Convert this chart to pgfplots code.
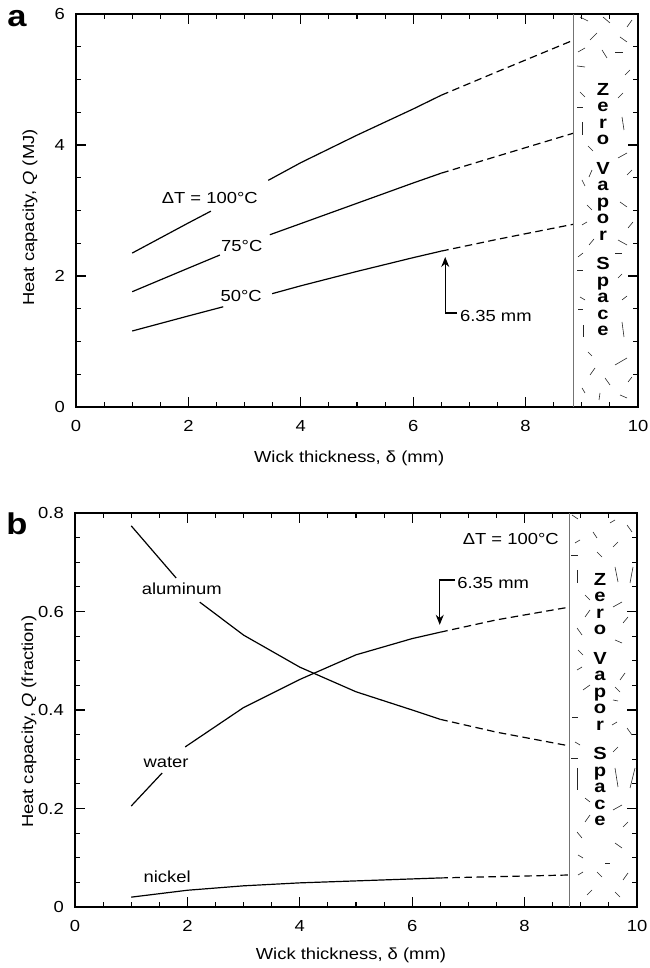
\documentclass[border=0pt]{standalone}
\usepackage{fontspec}
\setmainfont{Liberation Sans}[FakeStretch=1.15]
\usepackage{pgfplots}
\pgfplotsset{compat=1.18}
\usetikzlibrary{arrows.meta}

\newcommand{\fs}{\fontsize{16}{19}\selectfont}
\newcommand{\zd}[4]{\draw (#1,#2) -- (#3,#4);}

\pgfplotsset{
  myax/.style={
    scale only axis, width=562pt,
    xmin=0, xmax=10, xtick={0,2,...,10}, minor x tick num=3,
    tick align=inside, major tick length=10pt, minor tick length=5pt,
    axis line style={line width=1.4pt},
    every tick/.style={black, line width=1.1pt},
    tick label style={font=\fs},
    label style={font=\fs},
    /pgf/number format/assume math mode=true,
    xticklabel style={yshift=-10pt},
    yticklabel style={xshift=-7.7pt},
    no marks, clip=false,
  },
  curve/.style={black, line width=1.2pt},
  ext/.style={black, line width=1.2pt, dash pattern=on 7.5pt off 4.5pt},
}

\begin{document}
\begin{tikzpicture}
\useasboundingbox (0,0) rectangle (649pt,968pt);

% ---------------- panel a ----------------
\begin{axis}[myax, at={(76pt,561pt)}, anchor=south west, height=393pt,
  ymin=0, ymax=6, ytick={0,2,4,6}, minor y tick num=3,
  xlabel={Wick thickness, δ (mm)},
  ylabel={Heat capacity, \textit{Q} (MJ)},
  xlabel style={at={(axis description cs:0.486,-0.13)}, anchor=center},
  ylabel style={at={(axis description cs:-0.082,0.482)}, anchor=center},
]
% 100 C
\addplot[curve] coordinates {(1,2.35) (2,2.81) (2.4,2.99)};
\addplot[curve] coordinates {(3.42,3.46) (4,3.73) (5,4.15) (6,4.55) (6.5,4.76)};
\addplot[ext] coordinates {(6.5,4.76) (7.5,5.12) (8.85,5.60)};
% 75 C
\addplot[curve] coordinates {(1,1.76) (2,2.12) (2.56,2.32)};
\addplot[curve] coordinates {(3.45,2.63) (4,2.80) (5,3.11) (6,3.42) (6.5,3.57)};
\addplot[ext] coordinates {(6.5,3.57) (7.5,3.83) (8.85,4.18)};
% 50 C
\addplot[curve] coordinates {(1,1.16) (2,1.39) (2.62,1.53)};
\addplot[curve] coordinates {(3.49,1.73) (4,1.85) (5,2.07) (6,2.28) (6.5,2.38)};
\addplot[ext] coordinates {(6.5,2.38) (7.5,2.56) (8.85,2.79)};

\draw[black!55, line width=0.9pt] (axis cs:8.85,0) -- (axis cs:8.85,6);

\node[font=\fs, inner sep=0pt] at (axis cs:2.38,3.19) {ΔT = 100°C};
\node[font=\fs, inner sep=0pt] at (axis cs:2.95,2.46) {75°C};
\node[font=\fs, inner sep=0pt] at (axis cs:2.94,1.69) {50°C};
\node[font=\fs, inner sep=0pt, anchor=west] at (axis cs:6.83,1.39) {6.35 mm};
\draw[line width=1.1pt, -{Stealth[length=10pt,width=8pt]}]
  (axis cs:6.78,1.435) -- (axis cs:6.57,1.435) -- (axis cs:6.57,2.29);
\end{axis}

% ---------------- panel b ----------------
\begin{axis}[myax, at={(75pt,61pt)}, anchor=south west, height=394pt,
  ymin=0, ymax=0.8, ytick={0,0.2,0.4,0.6,0.8}, minor y tick num=3,
  yticklabel={\pgfmathprintnumber[fixed,precision=1]{\tick}},
  xlabel={Wick thickness, δ (mm)},
  ylabel={Heat capacity, \textit{Q} (fraction)},
  xlabel style={at={(axis description cs:0.491,-0.122)}, anchor=center},
  ylabel style={at={(axis description cs:-0.082,0.47)}, anchor=center},
]
% aluminum
\addplot[curve] coordinates {(1,0.774) (1.8,0.668)};
\addplot[curve] coordinates {(2.22,0.619) (3,0.552) (4,0.487) (5,0.437) (6,0.400) (6.5,0.381)};
\addplot[ext] coordinates {(6.5,0.381) (7.5,0.355) (8.8,0.327)};
% water
\addplot[curve] coordinates {(1,0.205) (1.55,0.272)};
\addplot[curve] coordinates {(1.96,0.325) (3,0.405) (4,0.462) (5,0.512) (6,0.545) (6.5,0.558)};
\addplot[ext] coordinates {(6.5,0.558) (7.5,0.583) (8.8,0.609)};
% nickel
\addplot[curve] coordinates {(1,0.020) (2,0.034) (3,0.043) (4,0.049) (5,0.053) (6,0.057) (6.5,0.059)};
\addplot[ext] coordinates {(6.5,0.059) (8.8,0.065)};

\draw[black!55, line width=0.9pt] (axis cs:8.8,0) -- (axis cs:8.8,0.8);

\node[font=\fs, inner sep=0pt, anchor=east] at (axis cs:8.61,0.747) {ΔT = 100°C};
\node[font=\fs, inner sep=0pt] at (axis cs:1.90,0.646) {aluminum};
\node[font=\fs, inner sep=0pt] at (axis cs:1.62,0.294) {water};
\node[font=\fs, inner sep=0pt] at (axis cs:1.64,0.061) {nickel};
\node[font=\fs, inner sep=0pt, anchor=west] at (axis cs:6.80,0.658) {6.35 mm};
\draw[line width=1.1pt, -{Stealth[length=10pt,width=8pt]}]
  (axis cs:6.76,0.664) -- (axis cs:6.49,0.664) -- (axis cs:6.49,0.573);
\end{axis}

% ---------------- overlay (pixel coordinates, y downward) ----------------
\begin{scope}[x=1pt, y=-1pt, shift={(0pt,968pt)}]
\node[anchor=base, inner sep=0pt, font=\fontsize{30}{36}\selectfont\bfseries] at (17,27) {a};
\node[anchor=base, inner sep=0pt, font=\fontsize{30}{36}\selectfont\bfseries] at (17,535) {b};

\node[align=center, anchor=north, inner sep=0pt, font=\fontsize{17.5}{16.5}\selectfont\bfseries]
  at (603,83) {Z\\e\\r\\o\\[13pt]V\\a\\p\\o\\r\\[13pt]S\\p\\a\\c\\e};
\node[align=center, anchor=north, inner sep=0pt, font=\fontsize{17.5}{16.5}\selectfont\bfseries]
  at (600,573) {Z\\e\\r\\o\\[13pt]V\\a\\p\\o\\r\\[13pt]S\\p\\a\\c\\e};

\begin{scope}[line width=0.6pt, black!85]
% panel a texture
\zd{580}{17}{588}{21}
\zd{603}{17}{610}{23}
\zd{627}{27}{632}{20}
\zd{590}{40}{597}{33}
\zd{620}{37}{627}{42}
\zd{578}{52}{585}{48}
\zd{602}{50}{607}{58}
\zd{615}{52}{623}{52}
\zd{577}{66}{585}{67}
\zd{625}{75}{630}{70}
\zd{580}{92}{585}{97}
\zd{618}{98}{623}{93}
\zd{577}{107}{583}{107}
\zd{582}{122}{582}{135}
\zd{622}{117}{624}{130}
\zd{588}{146}{593}{151}
\zd{618}{158}{627}{153}
\zd{589}{177}{592}{170}
\zd{627}{175}{632}{170}
\zd{582}{180}{585}{186}
\zd{620}{202}{627}{207}
\zd{587}{205}{592}{210}
\zd{582}{225}{587}{222}
\zd{628}{228}{633}{222}
\zd{589}{245}{594}{239}
\zd{618}{240}{627}{245}
\zd{578}{257}{583}{253}
\zd{615}{253}{622}{253}
\zd{577}{270}{583}{270}
\zd{618}{278}{622}{274}
\zd{580}{297}{585}{300}
\zd{622}{300}{627}{296}
\zd{578}{309}{583}{309}
\zd{583}{325}{583}{337}
\zd{622}{322}{624}{337}
\zd{588}{352}{592}{356}
\zd{615}{365}{627}{358}
\zd{590}{375}{595}{368}
\zd{605}{378}{610}{385}
\zd{582}{388}{585}{393}
\zd{628}{382}{632}{377}
\zd{620}{395}{627}{398}
\zd{600}{393}{599}{400}
% panel b texture
\zd{572}{515}{578}{519}
\zd{610}{523}{615}{520}
\zd{627}{525}{632}{532}
\zd{593}{532}{597}{538}
\zd{575}{543}{580}{540}
\zd{613}{547}{618}{542}
\zd{597}{552}{602}{557}
\zd{571}{555}{578}{555}
\zd{577}{570}{577}{583}
\zd{615}{567}{618}{582}
\zd{630}{583}{633}{567}
\zd{585}{595}{590}{600}
\zd{613}{607}{622}{602}
\zd{585}{617}{590}{610}
\zd{623}{623}{628}{617}
\zd{577}{628}{582}{635}
\zd{615}{640}{622}{643}
\zd{578}{650}{583}{655}
\zd{577}{670}{582}{667}
\zd{620}{680}{625}{673}
\zd{583}{690}{590}{685}
\zd{615}{687}{620}{692}
\zd{613}{700}{618}{701}
\zd{572}{717}{578}{717}
\zd{612}{725}{617}{722}
\zd{627}{728}{632}{735}
\zd{575}{742}{580}{745}
\zd{613}{752}{618}{747}
\zd{571}{758}{578}{758}
\zd{577}{768}{577}{790}
\zd{615}{768}{618}{787}
\zd{630}{788}{635}{768}
\zd{585}{798}{590}{802}
\zd{613}{810}{622}{805}
\zd{585}{822}{590}{815}
\zd{623}{827}{628}{822}
\zd{577}{832}{582}{838}
\zd{615}{843}{622}{848}
\zd{578}{855}{583}{858}
\zd{605}{863}{610}{863}
\zd{578}{875}{583}{872}
\zd{597}{872}{602}{877}
\zd{623}{880}{628}{873}
\zd{587}{895}{592}{890}
\zd{615}{892}{620}{897}
\end{scope}
\end{scope}
\end{tikzpicture}
\end{document}
